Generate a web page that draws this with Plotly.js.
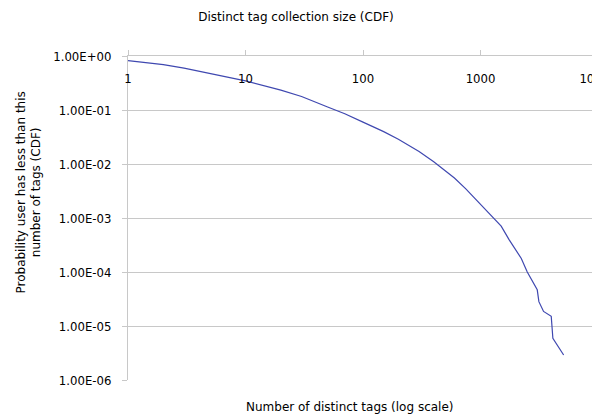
<!DOCTYPE html>
<html>
<head>
<meta charset="utf-8">
<script src="https://cdn.plot.ly/plotly-3.0.1.min.js"></script>
<style>
html, body { margin: 0; padding: 0; overflow: hidden; background: #fff; }
#chart { width: 604px; height: 416px; }
</style>
</head>
<body>
<div id="chart"></div>
<script>
// Number of distinct tags
const tagCounts = [1, 2, 3, 5, 10, 20, 30, 50, 70, 100, 150, 200, 300, 400, 500, 600, 750, 900, 1100, 1300, 1500, 1750, 1950, 2225, 2500, 2800, 3040, 3140, 3440, 4000, 4130, 5100];
// Probability user has less than this number of tags (CDF)
const cdfValues = [0.818, 0.692, 0.596, 0.479, 0.347, 0.234, 0.178, 0.1135, 0.0851, 0.0596, 0.0398, 0.0288, 0.017, 0.01096, 0.00759, 0.0055, 0.00347, 0.00229, 0.00148, 0.00102, 0.000708, 0.000398, 0.000282, 0.000178, 0.0001, 0.000063, 0.0000468, 0.0000282, 0.0000186, 0.0000151, 0.0000059, 0.0000029];

const xTickVals = [1, 10, 100, 1000, 10000];
const xTickText = ["1", "10", "100", "1000", "10000"];
const yTickVals = [1, 0.1, 0.01, 0.001, 0.0001, 0.00001, 0.000001];
const yTickText = ["1.00E+00", "1.00E-01", "1.00E-02", "1.00E-03", "1.00E-04", "1.00E-05", "1.00E-06"];

const chartTitle = "Distinct tag collection size (CDF)";
const xTitle = "Number of distinct tags (log scale)";
const yTitle = "Probability user has less than this<br>number of tags (CDF)";

const FONT = "DejaVu Sans, Verdana, sans-serif";
const TICKFONT = "DejaVu Sans Condensed, DejaVu Sans, sans-serif";
const GRID = "#c8c8c8";

const trace = {
  x: tagCounts,
  y: cdfValues,
  type: "scatter",
  mode: "lines",
  line: { color: "#3f48b0", width: 1.2 },
  hoverinfo: "skip"
};

const layout = {
  width: 604,
  height: 416,
  margin: { l: 128, r: 6, t: 56, b: 36 },
  paper_bgcolor: "#ffffff",
  plot_bgcolor: "#ffffff",
  showlegend: false,
  font: { family: FONT, size: 12, color: "#000000" },
  title: {
    text: chartTitle,
    font: { family: FONT, size: 12, color: "#000000" },
    xref: "container", x: 296 / 604, xanchor: "center",
    yref: "container", y: 1 - 17 / 416, yanchor: "middle"
  },
  xaxis: {
    type: "log",
    range: [0, 4],
    side: "top",
    tickvals: xTickVals,
    ticktext: xTickText,
    ticks: "outside",
    ticklen: 5,
    tickcolor: GRID,
    ticklabelposition: "inside",
    ticklabeloverflow: "allow",
    ticklabelstandoff: 18,
    showline: true,
    linecolor: GRID,
    linewidth: 1,
    showgrid: false,
    zeroline: false,
    tickfont: { family: TICKFONT, size: 13, color: "#000000" }
  },
  yaxis: {
    type: "log",
    range: [-6, 0],
    tickvals: yTickVals,
    ticktext: yTickText,
    ticks: "outside",
    ticklen: 5,
    tickcolor: GRID,
    ticklabelstandoff: 8,
    showline: true,
    linecolor: GRID,
    linewidth: 1,
    showgrid: true,
    gridcolor: GRID,
    gridwidth: 1,
    zeroline: false,
    tickfont: { family: TICKFONT, size: 13, color: "#000000" }
  },
  annotations: [{
    text: xTitle,
    xref: "paper", yref: "paper",
    x: (350 - 128) / 470, y: (380 - 407) / 324,
    xanchor: "center", yanchor: "middle",
    showarrow: false,
    font: { family: FONT, size: 12, color: "#000000" }
  }, {
    text: yTitle,
    xref: "paper", yref: "paper",
    x: (28.5 - 128) / 470, y: (380 - 193) / 324,
    xanchor: "center", yanchor: "middle",
    textangle: -90,
    showarrow: false,
    font: { family: FONT, size: 12, color: "#000000" }
  }]
};

Plotly.newPlot("chart", [trace], layout, { displayModeBar: false, staticPlot: true });
</script>
</body>
</html>
